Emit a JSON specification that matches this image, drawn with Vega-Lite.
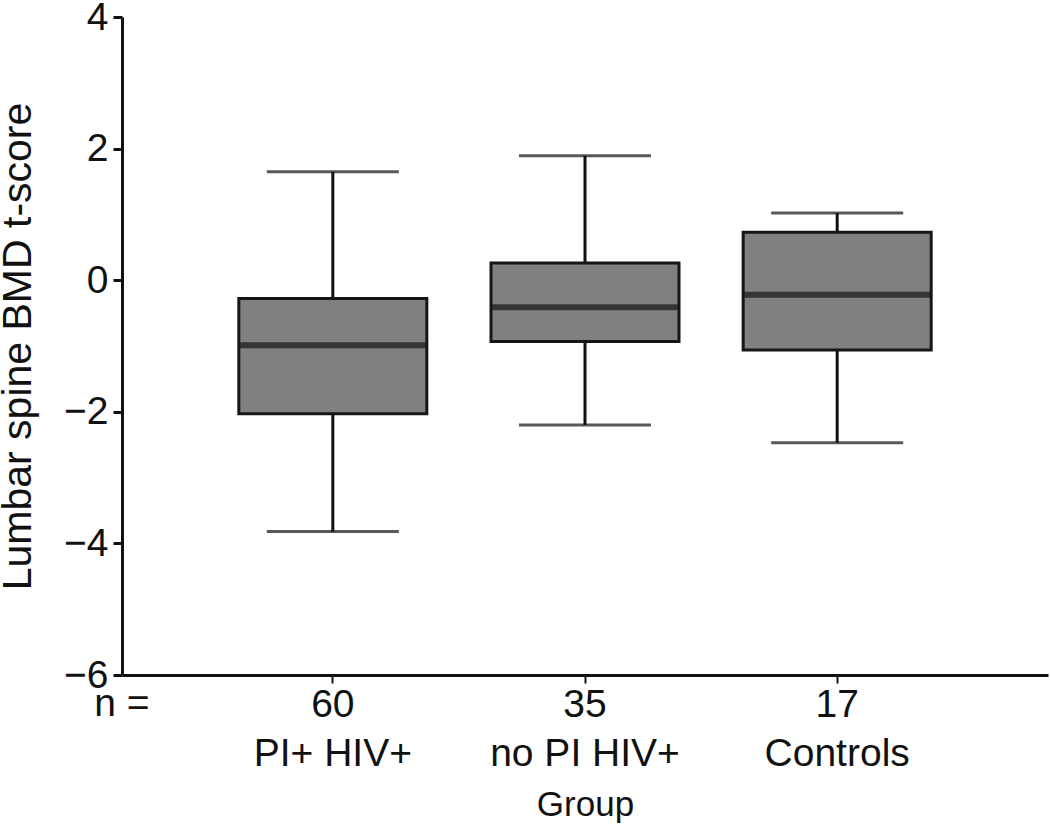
{
  "$schema": "https://vega.github.io/schema/vega-lite/v6.json",
  "width": 926,
  "height": 658,
  "autosize": {"type": "none"},
  "padding": {"left": 122, "top": 17, "right": 2, "bottom": 160},
  "background": "white",
  "config": {
    "view": {"stroke": null},
    "font": "Liberation Sans",
    "axis": {"grid": false, "domainColor": "#111", "domainWidth": 3, "tickColor": "#111", "labelColor": "#111", "titleColor": "#111", "titleFontWeight": "normal"}
  },
  "datasets": {
    "boxes": [
      {"group": "PI+ HIV+", "n": 60, "xlabel": "60|PI+ HIV+", "lo": -3.82, "q1": -2.03, "med": -0.99, "q3": -0.28, "hi": 1.65},
      {"group": "no PI HIV+", "n": 35, "xlabel": "35|no PI HIV+", "lo": -2.20, "q1": -0.93, "med": -0.41, "q3": 0.26, "hi": 1.89},
      {"group": "Controls", "n": 17, "xlabel": "17|Controls", "lo": -2.47, "q1": -1.06, "med": -0.22, "q3": 0.73, "hi": 1.02}
    ],
    "nlabel": [{"text": "n =", "p": 0, "y": -6.63}]
  },
  "layer": [
    {
      "data": {"name": "boxes"},
      "layer": [
        {
          "mark": {"type": "rule", "color": "#111", "strokeWidth": 3},
          "encoding": {
            "x": {"field": "xlabel", "type": "nominal", "sort": null,
              "scale": {"type": "band", "paddingInner": 0, "paddingOuter": 0.336},
              "axis": {"title": "Group", "titleFontSize": 35, "titlePadding": 14, "labelAngle": 0, "labelFontSize": 39, "labelLimit": 0, "labelExpr": "split(datum.label, '|')", "labelLineHeight": 49, "labelPadding": 2, "tickSize": 8, "tickWidth": 2, "labelBaseline": "top"}},
            "y": {"field": "lo", "type": "quantitative",
              "scale": {"domain": [-6, 4], "nice": false, "zero": false},
              "axis": {"title": "Lumbar spine BMD t-score", "titleFontSize": 41, "titlePadding": 24, "values": [-6, -4, -2, 0, 2, 4], "format": "d", "labelFontSize": 39, "tickSize": 9, "tickWidth": 3, "labelPadding": 5}},
            "y2": {"field": "hi"}
          }
        },
        {
          "mark": {"type": "tick", "color": "#111", "size": 132, "thickness": 3, "orient": "horizontal"},
          "encoding": {
            "x": {"field": "xlabel", "type": "nominal", "sort": null},
            "y": {"field": "hi", "type": "quantitative"}
          }
        },
        {
          "mark": {"type": "tick", "color": "#111", "size": 132, "thickness": 3, "orient": "horizontal"},
          "encoding": {
            "x": {"field": "xlabel", "type": "nominal", "sort": null},
            "y": {"field": "lo", "type": "quantitative"}
          }
        },
        {
          "mark": {"type": "bar", "size": 188, "fill": "#808080", "stroke": "#161616", "strokeWidth": 3},
          "encoding": {
            "x": {"field": "xlabel", "type": "nominal", "sort": null},
            "y": {"field": "q1", "type": "quantitative"},
            "y2": {"field": "q3"}
          }
        },
        {
          "mark": {"type": "tick", "color": "#161616", "size": 186, "thickness": 6, "orient": "horizontal"},
          "encoding": {
            "x": {"field": "xlabel", "type": "nominal", "sort": null},
            "y": {"field": "med", "type": "quantitative"}
          }
        }
      ]
    },
    {
      "data": {"name": "nlabel"},
      "mark": {"type": "text", "fontSize": 39, "color": "#111", "align": "center", "baseline": "alphabetic", "font": "Liberation Sans"},
      "encoding": {
        "x": {"field": "p", "type": "quantitative", "scale": {"domain": [0, 1]}, "axis": null},
        "y": {"field": "y", "type": "quantitative"},
        "text": {"field": "text"}
      }
    }
  ],
  "resolve": {"scale": {"x": "independent"}}
}
